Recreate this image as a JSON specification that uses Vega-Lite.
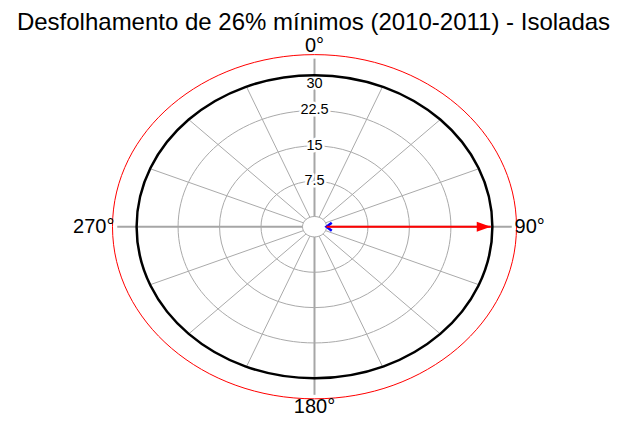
{
  "$schema": "https://vega.github.io/schema/vega-lite/v6.json",
  "width": 627,
  "height": 421,
  "autosize": {"type": "fit", "contains": "padding"},
  "padding": {"top": 13, "bottom": 0, "left": 0, "right": 0},
  "background": "white",
  "title": {"text": "Desfolhamento de 26% mínimos (2010-2011) - Isoladas", "fontSize": 24, "font": "Liberation Sans", "fontWeight": "normal", "color": "black", "anchor": "middle", "offset": 1},
  "config": {"view": {"stroke": null}},
  "data": {"values": [
    {"part": "spoke", "angle": 22.5, "value": 30},
    {"part": "spoke", "angle": 45, "value": 30},
    {"part": "spoke", "angle": 67.5, "value": 30},
    {"part": "spoke", "angle": 112.5, "value": 30},
    {"part": "spoke", "angle": 135, "value": 30},
    {"part": "spoke", "angle": 157.5, "value": 30},
    {"part": "spoke", "angle": 202.5, "value": 30},
    {"part": "spoke", "angle": 225, "value": 30},
    {"part": "spoke", "angle": 247.5, "value": 30},
    {"part": "spoke", "angle": 292.5, "value": 30},
    {"part": "spoke", "angle": 315, "value": 30},
    {"part": "spoke", "angle": 337.5, "value": 30},
    {"part": "axis", "angle": 0, "value": 33.5},
    {"part": "axis", "angle": 90, "value": 33.5},
    {"part": "axis", "angle": 180, "value": 33.5},
    {"part": "axis", "angle": 270, "value": 33.5},
    {"part": "ring", "value": 7.5},
    {"part": "ring", "value": 15},
    {"part": "ring", "value": 22.5},
    {"part": "max", "value": 30},
    {"part": "limit", "value": 34.36},
    {"part": "hub", "value": 0},
    {"part": "tick", "label": "7.5", "angle": 0, "value": 7.5},
    {"part": "tick", "label": "15", "angle": 0, "value": 15},
    {"part": "tick", "label": "22.5", "angle": 0, "value": 22.5},
    {"part": "tick30", "label": "30", "angle": 0, "value": 30},
    {"part": "mean", "angle": 90, "value": 29.7},
    {"part": "obs", "angle": 90, "value": 0},
    {"part": "dir0", "label": "0°", "angle": 0, "value": 34},
    {"part": "dir90", "label": "90°", "angle": 90, "value": 34},
    {"part": "dir180", "label": "180°", "angle": 180, "value": 34},
    {"part": "dir270", "label": "270°", "angle": 270, "value": 34}
  ]},
  "transform": [
    {"calculate": "datum.value + 2.17", "as": "d"},
    {"calculate": "sin((datum.angle || 0) * PI / 180) * datum.d", "as": "px"},
    {"calculate": "cos((datum.angle || 0) * PI / 180) * datum.d", "as": "py"}
  ],
  "encoding": {
    "x": {"field": "px", "type": "quantitative", "scale": {"domain": [-56.87, 56.51], "nice": false, "zero": false}, "axis": null},
    "y": {"field": "py", "type": "quantitative", "scale": {"domain": [-41.23, 40.05], "nice": false, "zero": false}, "axis": null}
  },
  "layer": [
    {
      "transform": [{"filter": "datum.part === 'spoke'"}],
      "mark": {"type": "rule", "color": "#aaaaaa", "strokeWidth": 1},
      "encoding": {"x2": {"datum": 0}, "y2": {"datum": 0}}
    },
    {
      "transform": [{"filter": "datum.part === 'axis'"}],
      "mark": {"type": "rule", "color": "#a6a6a6", "strokeWidth": 2},
      "encoding": {"x2": {"datum": 0}, "y2": {"datum": 0}}
    },
    {
      "transform": [{"filter": "datum.part === 'ring'"}],
      "mark": {"type": "point", "filled": false, "opacity": 1, "stroke": "#aaaaaa", "strokeWidth": 1,
        "shape": "M-1,0C-1,-0.4706,-0.5523,-0.852,0,-0.852C0.5523,-0.852,1,-0.4706,1,0C1,0.4706,0.5523,0.852,0,0.852C-0.5523,0.852,-1,0.4706,-1,0Z"},
      "encoding": {
        "x": {"datum": 0, "type": "quantitative", "axis": null},
        "y": {"datum": 0, "type": "quantitative", "axis": null},
        "size": {"field": "d", "type": "quantitative", "scale": {"type": "pow", "exponent": 2, "domain": [0, 36.53], "range": [0, 163216]}, "legend": null}
      }
    },
    {
      "transform": [{"filter": "datum.part === 'tick'"}],
      "mark": {"type": "text", "font": "Liberation Sans", "fontSize": 14.5, "baseline": "middle", "align": "center", "fill": "white", "stroke": "white", "strokeWidth": 5, "strokeJoin": "round"},
      "encoding": {"text": {"field": "label"}}
    },
    {
      "transform": [{"filter": "datum.part === 'tick'"}],
      "mark": {"type": "text", "font": "Liberation Sans", "fontSize": 14.5, "baseline": "middle", "align": "center", "color": "black"},
      "encoding": {"text": {"field": "label"}}
    },
    {
      "transform": [{"filter": "datum.part === 'tick30'"}],
      "mark": {"type": "text", "font": "Liberation Sans", "fontSize": 14.5, "baseline": "top", "align": "center", "dy": 2, "fill": "white", "stroke": "white", "strokeWidth": 5, "strokeJoin": "round"},
      "encoding": {"text": {"field": "label"}}
    },
    {
      "transform": [{"filter": "datum.part === 'tick30'"}],
      "mark": {"type": "text", "font": "Liberation Sans", "fontSize": 14.5, "baseline": "top", "align": "center", "dy": 2, "color": "black"},
      "encoding": {"text": {"field": "label"}}
    },
    {
      "transform": [{"filter": "datum.part === 'max'"}],
      "mark": {"type": "point", "filled": false, "opacity": 1, "stroke": "black", "strokeWidth": 2.5,
        "shape": "M-1,0C-1,-0.4706,-0.5523,-0.852,0,-0.852C0.5523,-0.852,1,-0.4706,1,0C1,0.4706,0.5523,0.852,0,0.852C-0.5523,0.852,-1,0.4706,-1,0Z"},
      "encoding": {
        "x": {"datum": 0, "type": "quantitative", "axis": null},
        "y": {"datum": 0, "type": "quantitative", "axis": null},
        "size": {"field": "d", "type": "quantitative", "scale": {"type": "pow", "exponent": 2, "domain": [0, 36.53], "range": [0, 163216]}, "legend": null}
      }
    },
    {
      "transform": [{"filter": "datum.part === 'limit'"}],
      "mark": {"type": "point", "filled": false, "opacity": 1, "stroke": "#ff0000", "strokeWidth": 1,
        "shape": "M-1,0C-1,-0.4706,-0.5523,-0.852,0,-0.852C0.5523,-0.852,1,-0.4706,1,0C1,0.4706,0.5523,0.852,0,0.852C-0.5523,0.852,-1,0.4706,-1,0Z"},
      "encoding": {
        "x": {"datum": 0, "type": "quantitative", "axis": null},
        "y": {"datum": 0, "type": "quantitative", "axis": null},
        "size": {"field": "d", "type": "quantitative", "scale": {"type": "pow", "exponent": 2, "domain": [0, 36.53], "range": [0, 163216]}, "legend": null}
      }
    },
    {
      "transform": [{"filter": "datum.part === 'hub'"}],
      "mark": {"type": "point", "filled": true, "opacity": 1, "fill": "white", "stroke": "#aaaaaa", "strokeWidth": 1,
        "shape": "M-1,0C-1,-0.4706,-0.5523,-0.852,0,-0.852C0.5523,-0.852,1,-0.4706,1,0C1,0.4706,0.5523,0.852,0,0.852C-0.5523,0.852,-1,0.4706,-1,0Z"},
      "encoding": {
        "x": {"datum": 0, "type": "quantitative", "axis": null},
        "y": {"datum": 0, "type": "quantitative", "axis": null},
        "size": {"field": "d", "type": "quantitative", "scale": {"type": "pow", "exponent": 2, "domain": [0, 36.53], "range": [0, 163216]}, "legend": null}
      }
    },
    {
      "transform": [{"filter": "datum.part === 'obs'"}],
      "mark": {"type": "point", "filled": false, "opacity": 1, "stroke": "#0000ff", "strokeWidth": 2.5, "size": 110, "shape": "M1,-0.75L0,0L1,0.75"}
    },
    {
      "transform": [{"filter": "datum.part === 'mean'"}],
      "mark": {"type": "rule", "color": "#ff0000", "strokeWidth": 2},
      "encoding": {"x2": {"datum": 2.17}, "y2": {"datum": 0}}
    },
    {
      "transform": [{"filter": "datum.part === 'mean'"}],
      "mark": {"type": "point", "filled": true, "opacity": 1, "fill": "#ff0000", "stroke": null, "size": 784, "shape": "M0,0L-1,-0.36L-1,0.36Z"}
    },
    {
      "transform": [{"filter": "datum.part === 'dir0'"}],
      "mark": {"type": "text", "font": "Liberation Sans", "fontSize": 20, "baseline": "bottom", "align": "center", "color": "black"},
      "encoding": {"text": {"field": "label"}}
    },
    {
      "transform": [{"filter": "datum.part === 'dir90'"}],
      "mark": {"type": "text", "font": "Liberation Sans", "fontSize": 20, "baseline": "middle", "align": "left", "color": "black"},
      "encoding": {"text": {"field": "label"}}
    },
    {
      "transform": [{"filter": "datum.part === 'dir180'"}],
      "mark": {"type": "text", "font": "Liberation Sans", "fontSize": 20, "baseline": "top", "align": "center", "color": "black"},
      "encoding": {"text": {"field": "label"}}
    },
    {
      "transform": [{"filter": "datum.part === 'dir270'"}],
      "mark": {"type": "text", "font": "Liberation Sans", "fontSize": 20, "baseline": "middle", "align": "right", "color": "black"},
      "encoding": {"text": {"field": "label"}}
    }
  ]
}
